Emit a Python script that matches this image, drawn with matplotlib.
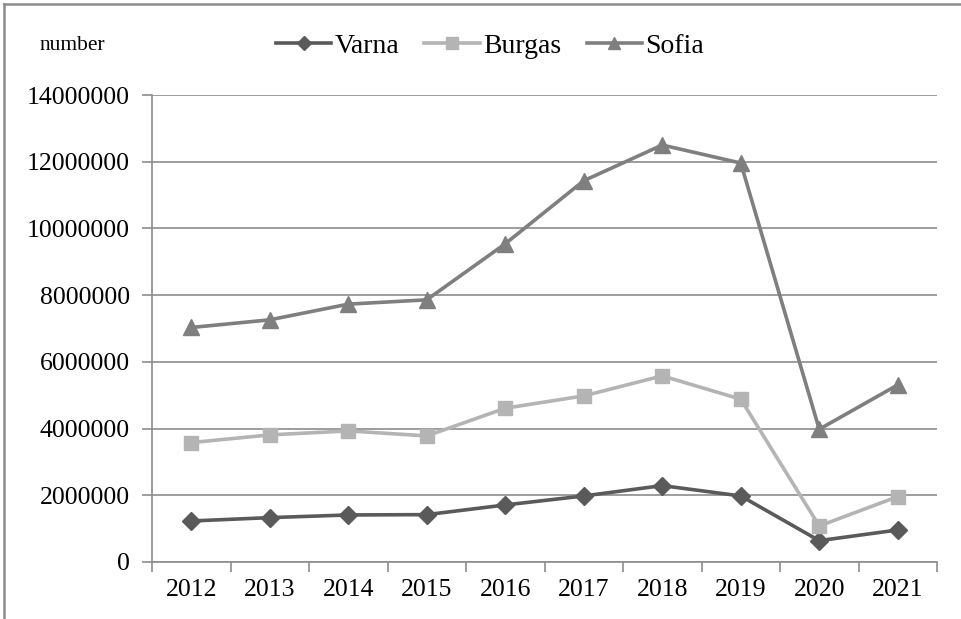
import matplotlib
matplotlib.use("Agg")
import matplotlib.pyplot as plt
from matplotlib.lines import Line2D

years = ["2012", "2013", "2014", "2015", "2016", "2017", "2018", "2019", "2020", "2021"]
varna = [1230000, 1330000, 1410000, 1420000, 1710000, 1980000, 2290000, 1980000, 640000, 960000]
burgas = [3580000, 3810000, 3930000, 3780000, 4610000, 4980000, 5580000, 4880000, 1080000, 1960000]
sofia = [7030000, 7260000, 7730000, 7860000, 9540000, 11430000, 12500000, 11960000, 3980000, 5310000]
y_ticks = [0, 2000000, 4000000, 6000000, 8000000, 10000000, 12000000, 14000000]

plt.rcParams["font.family"] = ["Liberation Serif", "DejaVu Serif"]

fig = plt.figure(figsize=(9.62, 6.19), dpi=100)
ax = fig.add_axes([152 / 962, 57 / 619, 785 / 962, 467 / 619])

x = list(range(len(years)))
series = [
    ("Varna", varna, "#5a5a5a", "D", 9),
    ("Burgas", burgas, "#b4b4b4", "s", 10),
    ("Sofia", sofia, "#7f7f7f", "^", 11),
]
handles = []
for name, vals, col, mk, ms in series:
    (h,) = ax.plot(x, vals, color=col, lw=2.6, marker=mk, ms=ms,
                   markeredgecolor=col, markerfacecolor=col, label=name,
                   clip_on=False, zorder=3)
    handles.append(h)

ax.set_xlim(-0.5, len(years) - 0.5)
ax.set_ylim(0, 14000000)
ax.set_yticks(y_ticks)
ax.set_yticklabels([str(v) for v in y_ticks])
ax.yaxis.grid(True, color="#8c8c8c", lw=1.2)
ax.set_axisbelow(True)

# category labels centred, tick marks on the category boundaries
ax.set_xticks(x)
ax.set_xticklabels(years)
ax.set_xticks([i - 0.5 for i in range(len(years) + 1)], minor=True)
ax.tick_params(axis="x", which="major", length=0, pad=12, labelsize=18.5)
ax.tick_params(axis="x", which="minor", length=7, width=1.2, color="#8c8c8c")
ax.tick_params(axis="y", length=7, width=1.2, color="#8c8c8c", pad=9, labelsize=18.5)

for side in ("top", "right"):
    ax.spines[side].set_visible(False)
for side in ("left", "bottom"):
    ax.spines[side].set_color("#8c8c8c")
    ax.spines[side].set_linewidth(1.2)

fig.text(40 / 962, 1 - 45 / 619, "number", fontsize=15.5, va="center", ha="left")

fig.legend(handles=handles, loc="center", bbox_to_anchor=(490 / 962, 1 - 46 / 619),
           ncol=3, frameon=False, fontsize=20, handlelength=2.0,
           handletextpad=0.12, columnspacing=0.9, markerscale=0.8)

# outer chart frame (top and left edges visible)
fig.add_artist(Line2D([4 / 962, 1.2], [1 - 4 / 619, 1 - 4 / 619],
                      transform=fig.transFigure, color="#8c8c8c", lw=1.8))
fig.add_artist(Line2D([4 / 962, 4 / 962], [-0.2, 1 - 4 / 619],
                      transform=fig.transFigure, color="#8c8c8c", lw=1.8))

fig.savefig("out.png", dpi=100)
